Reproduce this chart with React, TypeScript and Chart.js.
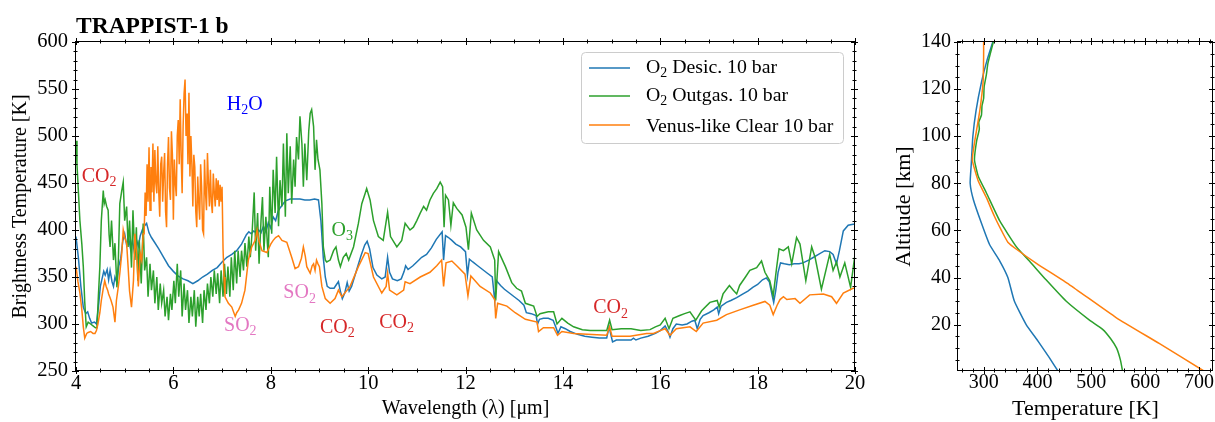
import React, { useEffect, useRef } from "react";
import { Chart, registerables } from "chart.js";

Chart.register(...registerables);

const SERIF = '"Liberation Serif", "Times New Roman", Times, serif';

const BLUE = "#1f77b4";
const GREEN = "#2ca02c";
const ORANGE = "#ff7f0e";
const RED = "#d62728";
const PINK = "#e377c2";

// Emission spectra: [wavelength (µm), brightness temperature (K)]
const desicSpectrum: [number, number][] = [
  [4.0, 393], [4.05, 370], [4.1, 340], [4.15, 318], [4.2, 311], [4.24, 313], [4.28, 306], [4.32, 301],
  [4.38, 302], [4.42, 300], [4.46, 318], [4.5, 340], [4.53, 347], [4.57, 356], [4.6, 352], [4.64, 358],
  [4.67, 347], [4.7, 357], [4.74, 345], [4.77, 340], [4.8, 350], [4.84, 344], [4.88, 362], [4.92, 370],
  [4.96, 388], [5.0, 396], [5.04, 384], [5.08, 392], [5.12, 380], [5.16, 389], [5.2, 376], [5.24, 390],
  [5.28, 383], [5.32, 394], [5.36, 400], [5.4, 404], [5.45, 407], [5.5, 397], [5.55, 392], [5.6, 388],
  [5.7, 380], [5.8, 371], [5.9, 362], [6.0, 356], [6.1, 351], [6.2, 348], [6.3, 346], [6.4, 343],
  [6.5, 346], [6.6, 350], [6.7, 353], [6.8, 357], [6.9, 360], [7.0, 366], [7.1, 371], [7.2, 374],
  [7.3, 378], [7.4, 385], [7.5, 395], [7.55, 398], [7.6, 396], [7.65, 399], [7.7, 397], [7.75, 400],
  [7.8, 397], [7.85, 404], [7.9, 398], [7.95, 408], [8.0, 402], [8.05, 414], [8.1, 410], [8.15, 420],
  [8.2, 424], [8.3, 431], [8.4, 433], [8.5, 433], [8.6, 433], [8.7, 432], [8.8, 432], [8.9, 433],
  [8.98, 432], [9.03, 410], [9.08, 370], [9.12, 350], [9.16, 340], [9.22, 338], [9.3, 338], [9.35, 342],
  [9.39, 345], [9.43, 335], [9.47, 327], [9.52, 333], [9.57, 344], [9.61, 335], [9.66, 340], [9.75, 355],
  [9.85, 372], [9.93, 384], [9.98, 388], [10.03, 380], [10.1, 360], [10.18, 352], [10.28, 348], [10.35, 350],
  [10.4, 371], [10.44, 355], [10.5, 348], [10.6, 346], [10.68, 348], [10.74, 356], [10.77, 362], [10.82, 358],
  [10.92, 362], [11.0, 366], [11.1, 371], [11.2, 374], [11.3, 381], [11.4, 390], [11.52, 398], [11.55, 368],
  [11.59, 394], [11.65, 392], [11.72, 389], [11.8, 385], [11.9, 382], [12.0, 377], [12.04, 352], [12.08, 369],
  [12.15, 366], [12.25, 362], [12.35, 358], [12.45, 354], [12.55, 350], [12.6, 325], [12.64, 346], [12.72, 341],
  [12.8, 337], [12.9, 333], [13.0, 329], [13.1, 325], [13.2, 320], [13.25, 312], [13.35, 311], [13.45, 309],
  [13.48, 300], [13.52, 305], [13.6, 306], [13.7, 306], [13.8, 304], [13.86, 296], [13.9, 290], [13.96, 297],
  [14.05, 295], [14.15, 292], [14.3, 289], [14.45, 287], [14.6, 286], [14.75, 285], [14.9, 285], [14.95, 297],
  [14.98, 290], [15.02, 281], [15.1, 283], [15.25, 283], [15.4, 283], [15.45, 285], [15.5, 283], [15.6, 285],
  [15.75, 287], [15.9, 290], [16.0, 293], [16.1, 298], [16.16, 292], [16.2, 286], [16.26, 295], [16.33, 300],
  [16.45, 299], [16.55, 300], [16.65, 303], [16.71, 304], [16.76, 295], [16.82, 305], [16.88, 309], [17.0, 312],
  [17.1, 315], [17.17, 318], [17.2, 311], [17.25, 319], [17.36, 323], [17.45, 325], [17.57, 328], [17.7, 332],
  [17.8, 335], [17.9, 339], [18.0, 342], [18.1, 347], [18.18, 349], [18.24, 345], [18.3, 330], [18.33, 323],
  [18.37, 335], [18.42, 355], [18.47, 365], [18.55, 364], [18.65, 363], [18.75, 364], [18.85, 364], [18.93, 365],
  [19.05, 368], [19.15, 371], [19.25, 374], [19.38, 378], [19.48, 377], [19.55, 374], [19.62, 364], [19.68, 378],
  [19.76, 399], [19.86, 405], [19.96, 406], [20.0, 406],
];

const outgasSpectrum: [number, number][] = [
  [4.0, 495], [4.02, 470], [4.05, 440], [4.08, 410], [4.12, 385], [4.15, 361], [4.18, 323], [4.21, 297],
  [4.25, 302], [4.3, 300], [4.35, 298], [4.4, 296], [4.43, 296], [4.46, 330], [4.49, 361], [4.52, 410],
  [4.56, 442], [4.58, 428], [4.6, 432], [4.63, 425], [4.66, 421], [4.68, 395], [4.7, 382], [4.73, 410],
  [4.77, 368], [4.8, 386], [4.84, 339], [4.87, 368], [4.9, 428], [4.94, 442], [4.97, 451], [5.0, 410],
  [5.04, 425], [5.07, 382], [5.1, 410], [5.14, 360], [5.17, 421], [5.21, 368], [5.24, 403], [5.27, 346],
  [5.3, 389], [5.34, 343], [5.38, 407], [5.41, 357], [5.45, 371], [5.48, 329], [5.52, 364], [5.55, 336],
  [5.59, 357], [5.62, 322], [5.66, 350], [5.69, 315], [5.73, 343], [5.76, 322], [5.8, 336], [5.83, 308],
  [5.87, 329], [5.9, 304], [5.94, 332], [5.97, 315], [6.01, 346], [6.04, 322], [6.08, 364], [6.11, 329],
  [6.15, 357], [6.18, 308], [6.22, 343], [6.25, 315], [6.29, 336], [6.32, 301], [6.36, 329], [6.39, 308],
  [6.43, 336], [6.46, 297], [6.5, 329], [6.53, 308], [6.56, 332], [6.6, 301], [6.63, 336], [6.67, 315],
  [6.7, 343], [6.74, 322], [6.77, 350], [6.81, 329], [6.84, 357], [6.88, 332], [6.91, 354], [6.95, 322],
  [6.98, 357], [7.02, 329], [7.05, 364], [7.09, 332], [7.12, 361], [7.16, 329], [7.19, 371], [7.23, 336],
  [7.26, 378], [7.3, 343], [7.33, 378], [7.37, 350], [7.4, 378], [7.44, 357], [7.47, 386], [7.51, 361],
  [7.55, 393], [7.58, 371], [7.62, 400], [7.66, 440], [7.69, 378], [7.73, 418], [7.76, 364], [7.8, 410],
  [7.83, 435], [7.86, 378], [7.9, 414], [7.93, 386], [7.95, 371], [7.98, 446], [8.02, 396], [8.05, 464],
  [8.09, 418], [8.12, 478], [8.16, 404], [8.19, 453], [8.23, 425], [8.26, 492], [8.3, 414], [8.33, 503],
  [8.36, 439], [8.4, 489], [8.43, 428], [8.47, 475], [8.5, 446], [8.53, 499], [8.57, 475], [8.6, 521],
  [8.64, 492], [8.67, 446], [8.7, 492], [8.74, 453], [8.78, 505], [8.81, 524], [8.84, 528], [8.88, 510],
  [8.91, 464], [8.94, 496], [8.97, 475], [9.01, 464], [9.05, 428], [9.08, 382], [9.12, 368], [9.15, 366],
  [9.22, 368], [9.29, 378], [9.34, 382], [9.39, 368], [9.43, 361], [9.49, 371], [9.55, 375], [9.6, 368],
  [9.7, 382], [9.8, 407], [9.87, 428], [9.94, 439], [9.97, 444], [10.04, 432], [10.11, 410], [10.21, 393],
  [10.31, 389], [10.4, 419], [10.46, 393], [10.59, 382], [10.69, 389], [10.76, 407], [10.86, 400], [10.93, 403],
  [11.0, 410], [11.07, 418], [11.14, 425], [11.2, 421], [11.27, 432], [11.34, 439], [11.41, 444], [11.48, 451],
  [11.53, 446], [11.56, 403], [11.59, 437], [11.65, 432], [11.7, 405], [11.75, 429], [11.82, 423], [11.93, 416],
  [12.01, 403], [12.06, 379], [12.12, 418], [12.23, 400], [12.37, 389], [12.51, 382], [12.6, 368], [12.62, 325],
  [12.68, 377], [12.82, 361], [12.95, 344], [13.05, 338], [13.15, 335], [13.23, 322], [13.4, 319], [13.47, 308],
  [13.53, 311], [13.7, 313], [13.81, 313], [13.88, 300], [13.98, 306], [14.1, 301], [14.22, 297], [14.4, 294],
  [14.56, 293], [14.75, 293], [14.9, 293], [14.96, 304], [15.01, 294], [15.2, 295], [15.4, 295], [15.6, 293],
  [15.79, 294], [15.9, 297], [16.0, 299], [16.1, 306], [16.18, 295], [16.26, 306], [16.4, 309], [16.5, 311],
  [16.61, 313], [16.73, 304], [16.85, 314], [17.02, 323], [17.17, 325], [17.21, 318], [17.29, 332], [17.42, 341],
  [17.5, 336], [17.57, 332], [17.63, 341], [17.75, 350], [17.84, 357], [17.98, 360], [18.08, 367], [18.15, 355],
  [18.25, 346], [18.32, 330], [18.39, 360], [18.44, 380], [18.53, 378], [18.63, 382], [18.7, 364], [18.8, 392],
  [18.87, 385], [18.99, 346], [19.11, 382], [19.18, 371], [19.31, 337], [19.48, 374], [19.55, 357], [19.62, 366],
  [19.69, 350], [19.79, 365], [19.91, 339], [20.0, 374],
];

const venusSpectrum: [number, number][] = [
  [4.0, 361], [4.04, 345], [4.08, 333], [4.12, 315], [4.15, 297], [4.18, 285], [4.22, 290], [4.25, 291],
  [4.3, 292], [4.35, 290], [4.39, 290], [4.42, 293], [4.45, 300], [4.49, 312], [4.52, 325], [4.56, 338],
  [4.59, 346], [4.62, 340], [4.65, 336], [4.67, 332], [4.7, 328], [4.72, 325], [4.76, 318], [4.8, 302],
  [4.83, 325], [4.87, 340], [4.9, 354], [4.94, 375], [4.97, 400], [5.0, 392], [5.04, 386], [5.07, 361],
  [5.1, 335], [5.14, 318], [5.18, 346], [5.21, 396], [5.25, 370], [5.28, 340], [5.32, 375], [5.35, 368],
  [5.38, 396], [5.4, 396], [5.42, 440], [5.44, 415], [5.46, 470], [5.48, 430], [5.5, 488], [5.52, 421],
  [5.54, 467], [5.56, 440], [5.58, 492], [5.6, 430], [5.62, 485], [5.64, 450], [5.66, 439], [5.68, 489],
  [5.7, 440], [5.72, 414], [5.74, 470], [5.76, 478], [5.78, 430], [5.8, 460], [5.82, 482], [5.84, 420],
  [5.86, 403], [5.88, 470], [5.9, 499], [5.92, 445], [5.94, 432], [5.96, 505], [5.98, 480], [6.0, 411],
  [6.02, 475], [6.04, 450], [6.06, 436], [6.08, 500], [6.1, 517], [6.12, 470], [6.14, 539], [6.16, 480],
  [6.18, 439], [6.2, 510], [6.22, 545], [6.24, 560], [6.26, 500], [6.28, 524], [6.3, 470], [6.32, 546],
  [6.34, 457], [6.36, 500], [6.38, 470], [6.4, 425], [6.42, 480], [6.44, 467], [6.46, 420], [6.48, 403],
  [6.5, 457], [6.52, 430], [6.54, 411], [6.56, 470], [6.58, 446], [6.6, 400], [6.62, 396], [6.64, 475],
  [6.66, 440], [6.68, 421], [6.7, 482], [6.72, 450], [6.74, 425], [6.76, 464], [6.78, 430], [6.8, 418],
  [6.82, 460], [6.84, 440], [6.86, 425], [6.88, 455], [6.9, 432], [6.92, 453], [6.94, 425], [6.96, 448],
  [6.98, 430], [7.0, 446], [7.02, 380], [7.04, 350], [7.06, 329], [7.13, 322], [7.2, 318], [7.27, 308],
  [7.3, 312], [7.34, 315], [7.4, 322], [7.47, 336], [7.54, 368], [7.61, 382], [7.68, 389], [7.72, 400],
  [7.76, 388], [7.82, 378], [7.92, 376], [8.0, 385], [8.05, 389], [8.1, 392], [8.16, 394], [8.23, 389],
  [8.33, 387], [8.43, 371], [8.5, 359], [8.57, 361], [8.63, 370], [8.67, 382], [8.71, 372], [8.74, 361],
  [8.81, 354], [8.85, 362], [8.88, 364], [8.91, 357], [8.94, 368], [8.97, 364], [9.0, 361], [9.05, 340],
  [9.12, 327], [9.22, 322], [9.32, 327], [9.39, 336], [9.46, 329], [9.63, 340], [9.8, 361], [9.94, 376],
  [10.0, 375], [10.11, 350], [10.28, 333], [10.37, 340], [10.4, 354], [10.44, 336], [10.59, 331], [10.73, 336],
  [10.76, 345], [10.86, 343], [11.07, 350], [11.27, 355], [11.41, 362], [11.51, 368], [11.55, 340], [11.6, 365],
  [11.72, 367], [11.82, 362], [11.99, 353], [12.05, 330], [12.11, 351], [12.3, 340], [12.51, 333], [12.6, 326],
  [12.62, 306], [12.66, 322], [12.85, 319], [13.02, 312], [13.23, 305], [13.47, 302], [13.5, 292], [13.6, 296],
  [13.81, 296], [13.89, 288], [13.98, 292], [14.22, 290], [14.5, 289], [14.9, 288], [14.96, 297], [15.01, 287],
  [15.38, 287], [15.72, 290], [15.86, 290], [16.0, 293], [16.1, 295], [16.2, 288], [16.33, 295], [16.61, 297],
  [16.74, 292], [16.88, 301], [17.16, 304], [17.36, 310], [17.63, 315], [17.91, 320], [18.15, 324], [18.25, 320],
  [18.32, 310], [18.4, 320], [18.46, 326], [18.53, 329], [18.6, 326], [18.77, 327], [18.87, 322], [19.07, 331],
  [19.35, 332], [19.52, 329], [19.62, 322], [19.76, 333], [19.96, 338], [20.0, 338],
];

// Atmospheric temperature profiles: [temperature (K), altitude (km)]
const desicProfile: [number, number][] = [
  [438, 0.3], [422, 6], [401, 13], [379, 20], [357, 30], [345, 40], [330, 47], [311, 54], [296, 63],
  [281, 73], [275, 80], [277, 88], [280, 100], [286, 111], [296, 123], [306, 132], [317, 140],
];

const outgasProfile: [number, number][] = [
  [558, 0.3], [554, 5], [547, 10], [536, 14], [521, 18], [496, 22], [453, 30], [416, 39], [385, 47],
  [361, 53], [330, 64], [305, 76], [290, 83], [283, 90], [287, 98], [292, 103], [291, 106], [296, 109],
  [297, 113], [300, 116], [301, 121], [305, 126], [308, 131], [318, 140],
];

const venusProfile: [number, number][] = [
  [709, 0.3], [626, 12], [546, 23], [459, 37], [398, 46], [361, 52], [345, 55], [333, 60], [320, 66],
  [305, 74], [290, 81], [279, 90], [285, 100], [293, 111], [299, 123], [300, 134], [300, 140],
];

const seriesLabels = ["O_2 Desic. 10 bar", "O_2 Outgas. 10 bar", "Venus-like Clear 10 bar"];
const seriesColors = [BLUE, GREEN, ORANGE];

const wavelengthTicks = [4, 6, 8, 10, 12, 14, 16, 18, 20];
const brightnessTicks = [250, 300, 350, 400, 450, 500, 550, 600];
const temperatureTicks = [300, 400, 500, 600, 700];
const altitudeTicks = [20, 40, 60, 80, 100, 120, 140];

// Absorption band labels (anchored at the text's left end, on its baseline)
const bandLabels = [
  { text: "CO_2", x: 4.117, y: 451.4, color: RED },
  { text: "H_2O", x: 7.095, y: 527.7, color: "#0000ff" },
  { text: "SO_2", x: 7.04, y: 292.9, color: PINK },
  { text: "SO_2", x: 8.258, y: 327.3, color: PINK },
  { text: "O_3", x: 9.25, y: 393.6, color: GREEN },
  { text: "CO_2", x: 9.011, y: 290.8, color: RED },
  { text: "CO_2", x: 10.229, y: 296.1, color: RED },
  { text: "CO_2", x: 14.624, y: 311.4, color: RED },
];

const range = (from: number, to: number, step: number) => {
  const out: number[] = [];
  for (let v = from; v <= to + 1e-9; v += step) out.push(Math.round(v * 1000) / 1000);
  return out;
};

// Draws text where "_d" marks a subscript digit.
function drawRich(
  ctx: CanvasRenderingContext2D,
  text: string,
  x: number,
  y: number,
  size: number,
  color: string,
  bold = false
) {
  const parts: { t: string; sub: boolean }[] = [];
  const re = /_(\d)/g;
  let last = 0;
  let m: RegExpExecArray | null;
  while ((m = re.exec(text))) {
    if (m.index > last) parts.push({ t: text.slice(last, m.index), sub: false });
    parts.push({ t: m[1], sub: true });
    last = re.lastIndex;
  }
  if (last < text.length) parts.push({ t: text.slice(last), sub: false });
  const fontFor = (sub: boolean) => `${bold ? "bold " : ""}${sub ? size * 0.7 : size}px ${SERIF}`;
  ctx.save();
  ctx.fillStyle = color;
  ctx.textAlign = "left";
  ctx.textBaseline = "alphabetic";
  let cx = x;
  for (const p of parts) {
    ctx.font = fontFor(p.sub);
    ctx.fillText(p.t, cx, p.sub ? y + size * 0.22 : y);
    cx += ctx.measureText(p.t).width;
  }
  ctx.restore();
}

// Axes frame with ticks crossing the spines on all four sides.
function frameTicks(xMajor: number[], xMinor: number[], yMajor: number[], yMinor: number[]) {
  return {
    id: "frameTicks",
    afterDatasetsDraw(chart: any) {
      const { ctx, chartArea: a, scales } = chart;
      const crisp = (v: number) => Math.round(v) + 0.5;
      const L = crisp(a.left) - 1;
      const R = crisp(a.right) - 1;
      const T = crisp(a.top) - 1;
      const B = crisp(a.bottom) - 1;
      ctx.save();
      ctx.strokeStyle = "#000";
      ctx.lineWidth = 1;
      const seg = (x1: number, y1: number, x2: number, y2: number) => {
        ctx.beginPath();
        ctx.moveTo(x1, y1);
        ctx.lineTo(x2, y2);
        ctx.stroke();
      };
      const groups: [number[], number[], number][] = [
        [xMinor, yMinor, 2],
        [xMajor, yMajor, 3.5],
      ];
      for (const [xs, ys, len] of groups) {
        for (const v of xs) {
          const px = crisp(scales.x.getPixelForValue(v));
          seg(px, B - len, px, B + len);
          seg(px, T - len, px, T + len);
        }
        for (const v of ys) {
          const py = crisp(scales.y.getPixelForValue(v));
          seg(L - len, py, L + len, py);
          seg(R - len, py, R + len, py);
        }
      }
      ctx.strokeRect(L, T, R - L, B - T);
      ctx.restore();
    },
  };
}

const spectrumAnnotations = {
  id: "spectrumAnnotations",
  afterDraw(chart: any) {
    const { ctx, scales } = chart;
    drawRich(ctx, "TRAPPIST-1 b", 76, 33, 23.5, "#000", true);
    for (const lab of bandLabels) {
      drawRich(ctx, lab.text, scales.x.getPixelForValue(lab.x), scales.y.getPixelForValue(lab.y), 20, lab.color);
    }
    // legend
    const box = { x: 581.5, y: 52.5, w: 262, h: 91, r: 4 };
    ctx.save();
    ctx.beginPath();
    ctx.moveTo(box.x + box.r, box.y);
    ctx.arcTo(box.x + box.w, box.y, box.x + box.w, box.y + box.h, box.r);
    ctx.arcTo(box.x + box.w, box.y + box.h, box.x, box.y + box.h, box.r);
    ctx.arcTo(box.x, box.y + box.h, box.x, box.y, box.r);
    ctx.arcTo(box.x, box.y, box.x + box.w, box.y, box.r);
    ctx.closePath();
    ctx.fillStyle = "rgba(255,255,255,0.8)";
    ctx.fill();
    ctx.strokeStyle = "#cccccc";
    ctx.lineWidth = 1;
    ctx.stroke();
    const rowLine = [68, 96, 125];
    const rowBase = [72.5, 100.5, 131.5];
    seriesLabels.forEach((label, i) => {
      ctx.strokeStyle = seriesColors[i];
      ctx.lineWidth = 1.5;
      ctx.beginPath();
      ctx.moveTo(589, rowLine[i]);
      ctx.lineTo(630, rowLine[i]);
      ctx.stroke();
      drawRich(ctx, label, 646, rowBase[i], 19.8, "#000");
    });
    ctx.restore();
  },
};

const toPoints = (pts: [number, number][]) => pts.map(([x, y]) => ({ x, y }));

function lineSet(label: string, pts: [number, number][], color: string, order: number, tension = 0) {
  return {
    label,
    data: toPoints(pts),
    borderColor: color,
    backgroundColor: color,
    borderWidth: 1.5,
    pointRadius: 0,
    showLine: true,
    fill: false,
    tension,
    order,
  };
}

function axis(opts: {
  min: number;
  max: number;
  ticks: number[];
  title: string;
  tickSize: number;
  titleSize: number;
  tickPad: number;
  titlePad: { top: number; bottom: number };
  fit: (s: any) => void;
}) {
  return {
    type: "linear",
    min: opts.min,
    max: opts.max,
    afterBuildTicks: (s: any) => {
      s.ticks = opts.ticks.map((value) => ({ value }));
    },
    afterFit: opts.fit,
    grid: { display: false, drawTicks: false, tickLength: 0 },
    border: { display: false },
    ticks: {
      color: "#000",
      font: { family: SERIF, size: opts.tickSize },
      padding: opts.tickPad,
      maxRotation: 0,
      autoSkip: false,
    },
    title: {
      display: true,
      text: opts.title,
      color: "#000",
      font: { family: SERIF, size: opts.titleSize },
      padding: opts.titlePad,
    },
  };
}

export default function App() {
  const leftRef = useRef<HTMLCanvasElement>(null);
  const rightRef = useRef<HTMLCanvasElement>(null);

  useEffect(() => {
    const spectrum = new Chart(leftRef.current as HTMLCanvasElement, {
      type: "scatter",
      data: {
        datasets: [
          lineSet(seriesLabels[0], desicSpectrum, BLUE, 2),
          lineSet(seriesLabels[1], outgasSpectrum, GREEN, 1),
          lineSet(seriesLabels[2], venusSpectrum, ORANGE, 0),
        ],
      },
      options: {
        responsive: false,
        animation: false,
        devicePixelRatio: 1,
        events: [],
        layout: { padding: { left: 0, right: 25, top: 42, bottom: 0 } },
        plugins: { legend: { display: false }, tooltip: { enabled: false } },
        scales: {
          x: axis({
            min: 4,
            max: 20,
            ticks: wavelengthTicks,
            title: "Wavelength (λ) [μm]",
            tickSize: 20.5,
            titleSize: 20,
            tickPad: 0,
            titlePad: { top: 0, bottom: 1 },
            fit: (s: any) => {
              s.height = 51;
            },
          }),
          y: axis({
            min: 250,
            max: 600,
            ticks: brightnessTicks,
            title: "Brightness Temperature [K]",
            tickSize: 20.5,
            titleSize: 20,
            tickPad: 8,
            titlePad: { top: 9, bottom: 0 },
            fit: (s: any) => {
              s.width = 76;
            },
          }),
        },
      } as any,
      plugins: [
        frameTicks(wavelengthTicks, range(4, 20, 0.5), brightnessTicks, range(250, 600, 10)),
        spectrumAnnotations,
      ],
    });

    const profile = new Chart(rightRef.current as HTMLCanvasElement, {
      type: "scatter",
      data: {
        datasets: [
          lineSet(seriesLabels[0], desicProfile, BLUE, 2, 0.15),
          lineSet(seriesLabels[1], outgasProfile, GREEN, 1, 0.15),
          lineSet(seriesLabels[2], venusProfile, ORANGE, 0, 0.15),
        ],
      },
      options: {
        responsive: false,
        animation: false,
        devicePixelRatio: 1,
        events: [],
        layout: { padding: { left: 0, right: 2, top: 42, bottom: 0 } },
        plugins: { legend: { display: false }, tooltip: { enabled: false } },
        scales: {
          x: axis({
            min: 252.4,
            max: 726,
            ticks: temperatureTicks,
            title: "Temperature [K]",
            tickSize: 20,
            titleSize: 22,
            tickPad: 0,
            titlePad: { top: 0, bottom: 0 },
            fit: (s: any) => {
              s.height = 51;
            },
          }),
          y: axis({
            min: 0.3,
            max: 140,
            ticks: altitudeTicks,
            title: "Altitude [km]",
            tickSize: 20,
            titleSize: 22,
            tickPad: 7,
            titlePad: { top: 11, bottom: 0 },
            fit: (s: any) => {
              s.width = 78;
            },
          }),
        },
      } as any,
      plugins: [frameTicks(temperatureTicks, range(260, 720, 20), altitudeTicks, range(5, 140, 5))],
    });

    return () => {
      spectrum.destroy();
      profile.destroy();
    };
  }, []);

  return (
    <div
      style={{
        position: "absolute",
        left: 0,
        top: 0,
        width: 1215,
        height: 422,
        background: "#fff",
        overflow: "hidden",
      }}
    >
      <canvas
        ref={leftRef}
        width={880}
        height={422}
        style={{ position: "absolute", left: 0, top: 0, width: 880, height: 422 }}
      />
      <canvas
        ref={rightRef}
        width={335}
        height={422}
        style={{ position: "absolute", left: 880, top: 0, width: 335, height: 422 }}
      />
    </div>
  );
}
